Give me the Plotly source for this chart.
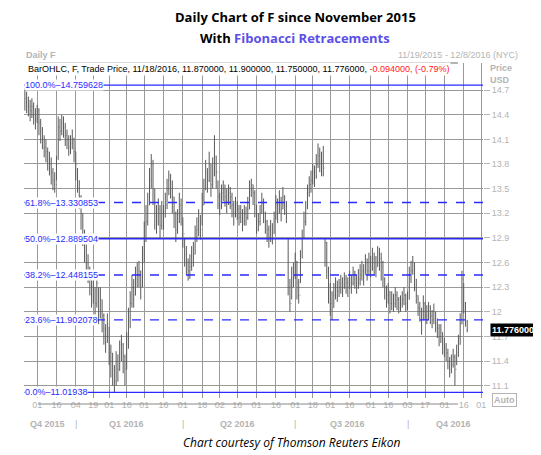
import pandas as pd
import plotly.graph_objects as go

# daily closes, highs, lows of F, 11/19/2015 - 11/18/2016
close = [
    14.6, 14.55, 14.5, 14.45, 14.5, 14.4, 14.35, 14.45, 14.3, 14.2,
    14.1, 14.0, 13.95, 13.85, 13.8, 13.7, 13.6, 13.55, 13.8, 14.25,
    14.2, 14.3, 14.25, 14.15, 14.1, 14.0, 14.05, 14.1, 13.95, 13.8,
    13.6, 13.4, 13.2, 12.95, 12.8, 12.6, 12.5, 12.4, 12.2, 12.3,
    12.1, 12.35, 12.0, 12.15, 11.95, 11.8, 11.7, 11.85, 11.5, 11.4,
    11.3, 11.15, 11.4, 11.3, 11.5, 11.6, 11.45, 11.3, 11.6, 11.9,
    12.1, 12.3, 12.2, 12.4, 12.45, 12.5, 12.3, 12.7, 12.9, 13.1,
    13.3, 13.6, 13.8, 13.5, 13.2, 13.1, 13.25, 13.05, 13.2, 13.15,
    13.3, 13.5, 13.6, 13.55, 13.4, 13.2, 13.0, 13.1, 13.3, 13.2,
    12.95, 12.7, 12.6, 12.5, 12.55, 12.65, 12.7, 12.9, 13.0, 13.1,
    13.0, 13.3, 13.5, 13.7, 13.6, 13.8, 13.55, 13.75, 13.9, 13.7,
    13.4, 13.3, 13.45, 13.5, 13.4, 13.35, 13.45, 13.4, 13.3, 13.2,
    13.3, 13.25, 13.15, 13.2, 13.1, 13.2, 13.15, 13.25, 13.5, 13.55,
    13.45, 13.3, 13.0, 13.1, 13.2, 13.35, 13.2, 13.1, 13.0, 12.9,
    13.0, 12.95, 13.1, 13.3, 13.2, 13.35, 13.25, 13.4, 13.3, 13.2,
    12.3, 12.1, 12.4, 12.45, 12.6, 12.35, 12.2, 12.6, 12.9, 13.1,
    13.2, 13.45, 13.55, 13.6, 13.7, 13.65, 13.8, 13.9, 13.85, 13.8,
    13.75, 12.85, 12.5, 12.3, 12.1, 12.05, 12.2, 12.3, 12.25, 12.3,
    12.35, 12.3, 12.4, 12.35, 12.3, 12.4, 12.35, 12.45, 12.4, 12.35,
    12.4, 12.45, 12.5, 12.45, 12.6, 12.5, 12.6, 12.55, 12.65, 12.6,
    12.55, 12.7, 12.65, 12.6, 12.4, 12.3, 12.2, 12.25, 12.1, 12.15,
    12.1, 12.2, 12.15, 12.05, 12.1, 12.15, 12.2, 12.1, 12.15, 12.4,
    12.5, 12.6, 12.4, 12.2, 12.05, 12.0, 11.9, 12.1, 12.0, 11.95,
    12.05, 11.95, 11.9, 12.0, 11.85, 11.8, 11.7, 11.75, 11.6, 11.55,
    11.5, 11.4, 11.3, 11.35, 11.45, 11.3, 11.5, 11.6, 11.85, 12.4,
    12.1, 11.9, 11.776,
]
high = [
    14.72, 14.68, 14.62, 14.58, 14.6, 14.55, 14.48, 14.52, 14.48, 14.35,
    14.25, 14.15, 14.1, 14.0, 13.95, 13.88, 13.75, 13.7, 13.9, 14.38,
    14.35, 14.4, 14.38, 14.3, 14.22, 14.15, 14.15, 14.22, 14.12, 13.95,
    13.75, 13.6, 13.42, 13.2, 13.0, 12.85, 12.7, 12.55, 12.45, 12.5,
    12.3, 12.48, 12.3, 12.3, 12.15, 11.98, 11.85, 11.98, 11.82, 11.6,
    11.5, 11.35, 11.52, 11.48, 11.65, 11.72, 11.62, 11.48, 11.75, 12.05,
    12.25, 12.45, 12.4, 12.55, 12.6, 12.62, 12.5, 12.8, 13.1, 13.3,
    13.45, 13.75, 13.92, 13.85, 13.5, 13.3, 13.38, 13.3, 13.35, 13.3,
    13.45, 13.62, 13.72, 13.68, 13.6, 13.4, 13.22, 13.25, 13.45, 13.38,
    13.15, 12.9, 12.8, 12.65, 12.7, 12.8, 12.85, 13.05, 13.15, 13.25,
    13.18, 13.45, 13.62, 13.85, 13.75, 13.95, 13.8, 13.88, 14.15, 13.9,
    13.6, 13.45, 13.55, 13.6, 13.55, 13.5, 13.55, 13.52, 13.45, 13.35,
    13.4, 13.35, 13.3, 13.3, 13.25, 13.3, 13.28, 13.4, 13.6, 13.62,
    13.55, 13.48, 13.3, 13.2, 13.3, 13.45, 13.38, 13.22, 13.12, 13.05,
    13.12, 13.08, 13.22, 13.42, 13.38, 13.48, 13.4, 13.52, 13.42, 13.35,
    12.9, 12.4, 12.55, 12.6, 12.72, 12.62, 12.4, 12.75, 13.0, 13.22,
    13.35, 13.55, 13.65, 13.72, 13.8, 13.78, 13.92, 14.05, 14.0, 13.95,
    14.02, 12.9, 12.85, 12.55, 12.35, 12.25, 12.35, 12.42, 12.38, 12.4,
    12.45, 12.42, 12.48, 12.45, 12.42, 12.5, 12.45, 12.55, 12.5, 12.45,
    12.52, 12.58, 12.62, 12.58, 12.7, 12.65, 12.72, 12.68, 12.78, 12.72,
    12.68, 12.8, 12.78, 12.72, 12.62, 12.42, 12.32, 12.35, 12.25, 12.25,
    12.22, 12.3, 12.25, 12.18, 12.2, 12.25, 12.3, 12.22, 12.25, 12.55,
    12.62, 12.68, 12.6, 12.4, 12.2, 12.12, 12.05, 12.2, 12.12, 12.08,
    12.12, 12.08, 12.02, 12.1, 12.0, 11.92, 11.85, 11.85, 11.75, 11.68,
    11.62, 11.55, 11.45, 11.48, 11.55, 11.48, 11.6, 11.72, 11.98, 12.5,
    12.35, 12.12, 11.9,
]
low = [
    14.45, 14.42, 14.38, 14.32, 14.36, 14.28, 14.22, 14.3, 14.15, 14.05,
    13.98, 13.88, 13.82, 13.72, 13.66, 13.55, 13.48, 13.45, 13.6, 13.85,
    14.08, 14.15, 14.12, 14.02, 13.98, 13.9, 13.92, 13.98, 13.82, 13.6,
    13.45, 13.25, 13.0, 12.8, 12.6, 12.45, 12.35, 12.2, 12.05, 12.1,
    11.95, 12.05, 11.85, 11.92, 11.75, 11.6, 11.5, 11.62, 11.35, 11.2,
    11.1, 11.02, 11.1, 11.15, 11.28, 11.4, 11.25, 11.1, 11.3, 11.55,
    11.8, 12.05, 12.05, 12.2, 12.3, 12.3, 12.15, 12.3, 12.6, 12.85,
    13.05, 13.3, 13.5, 13.3, 13.0, 12.95, 13.05, 12.9, 13.0, 13.0,
    13.15, 13.25, 13.42, 13.38, 13.2, 13.02, 12.85, 12.95, 13.08, 13.05,
    12.78, 12.55, 12.45, 12.38, 12.4, 12.5, 12.55, 12.7, 12.85, 12.92,
    12.88, 13.05, 13.3, 13.48, 13.45, 13.58, 13.4, 13.5, 13.65, 13.5,
    13.25, 13.18, 13.25, 13.35, 13.28, 13.2, 13.3, 13.25, 13.15, 13.05,
    13.15, 13.12, 13.05, 13.08, 12.98, 13.05, 13.05, 13.12, 13.25, 13.4,
    13.3, 13.15, 12.95, 12.98, 13.05, 13.2, 13.08, 12.95, 12.85, 12.78,
    12.85, 12.82, 12.95, 13.12, 13.08, 13.2, 13.1, 13.25, 13.18, 13.08,
    12.2, 12.0, 12.15, 12.3, 12.4, 12.15, 12.1, 12.35, 12.65, 12.9,
    13.05, 13.25, 13.4, 13.45, 13.55, 13.52, 13.62, 13.75, 13.7, 13.65,
    13.65, 12.55, 12.4, 12.1, 11.95, 11.9, 12.05, 12.15, 12.12, 12.18,
    12.22, 12.18, 12.28, 12.22, 12.18, 12.28, 12.22, 12.32, 12.28, 12.22,
    12.28, 12.32, 12.38, 12.32, 12.45, 12.38, 12.45, 12.42, 12.5, 12.45,
    12.42, 12.55, 12.5, 12.38, 12.3, 12.15, 12.05, 12.1, 11.98, 12.02,
    12.0, 12.05, 12.02, 11.98, 12.0, 12.05, 12.08, 12.0, 12.02, 12.15,
    12.35, 12.45, 12.25, 12.1, 11.95, 11.88, 11.72, 11.9, 11.9, 11.85,
    11.9, 11.85, 11.8, 11.85, 11.75, 11.68, 11.58, 11.62, 11.48, 11.45,
    11.4, 11.3, 11.2, 11.25, 11.32, 11.1, 11.35, 11.45, 11.6, 11.85,
    11.98, 11.82, 11.75,
]
first_open = 14.65

holidays = ["2015-11-26", "2015-12-25", "2016-01-01", "2016-01-18", "2016-02-15",
            "2016-03-25", "2016-05-30", "2016-07-04", "2016-09-05", "2016-11-24"]

fib_pct = ["100.0%", "61.8%", "50.0%", "38.2%", "23.6%", "0.0%"]
fib_txt = ["14.759628", "13.330853", "12.889504", "12.448155", "11.902078", "11.01938"]
fib_val = [14.759628, 13.330853, 12.889504, 12.448155, 11.902078, 11.01938]
fib_dash = ["solid", "dash", "solid", "dash", "dash", "solid"]

price_ticks = [11.1, 11.4, 11.7, 12.0, 12.3, 12.6, 12.9, 13.2, 13.5, 13.8, 14.1, 14.4, 14.7]
price_labels = ["11.1", "11.4", "11.7", "12", "12.3", "12.6", "12.9", "13.2", "13.5",
                "13.8", "14.1", "14.4", "14.7"]

tick_dates = ["2015-12-01", "2015-12-16", "2016-01-04", "2016-01-19", "2016-02-01",
              "2016-02-16", "2016-03-01", "2016-03-16", "2016-04-01", "2016-04-18",
              "2016-05-02", "2016-05-16", "2016-06-01", "2016-06-16", "2016-07-01",
              "2016-07-18", "2016-08-01", "2016-08-16", "2016-09-01", "2016-09-16",
              "2016-10-03", "2016-10-17", "2016-11-01", "2016-11-16", "2016-12-01"]
quarters = ["Q4 2015", "Q1 2016", "Q2 2016", "Q3 2016", "Q4 2016"]
quarter_mid = ["2015-12-09", "2016-02-16", "2016-05-16", "2016-08-15", "2016-11-08"]
quarter_sep = ["2016-01-04", "2016-04-01", "2016-07-01", "2016-10-03"]

dates = pd.bdate_range("2015-11-19", "2016-11-18")
dates = dates[~dates.isin(pd.to_datetime(holidays))]
assert len(dates) == len(close) == len(high) == len(low)
opens = [first_open] + close[:-1]

BLUE = "#2a2aff"
GRAY = "#b4b4b4"
FONT = "Liberation Sans"
PLOT_H = 335  # px, plot area height (455 - 55 - 65)


def py(ypx):
    # picture pixel row -> paper y
    return (397 - ypx) / PLOT_H


def px(xpx):
    return (xpx - 16) / 459


def note(text, x, y, xanchor="center", **kw):
    fig.add_annotation(xref="paper", yref="paper", x=px(x), y=py(y), xanchor=xanchor,
                       yanchor="middle", text=text, showarrow=False, **kw)


fig = go.Figure()
fig.add_trace(go.Ohlc(x=dates, open=opens, high=high, low=low, close=close,
                      increasing_line_color="#5a5a5a", decreasing_line_color="#5a5a5a",
                      line_width=1, tickwidth=0.2, hoverinfo="skip"))

# fibonacci levels
for pct, txt, val, dash in zip(fib_pct, fib_txt, fib_val, fib_dash):
    fig.add_shape(type="line", xref="paper", x0=0, x1=1, y0=val, y1=val,
                  line=dict(color=BLUE, width=1.3, dash=dash))
    fig.add_annotation(xref="paper", x=0, y=val, xanchor="left", yanchor="middle",
                       text=pct + "\u2013" + txt, showarrow=False,
                       font=dict(family=FONT, size=9, color=BLUE), bgcolor="white", borderpad=0)

# header
note("<b>Daily Chart of F since November 2015</b>", 287, 16,
     font=dict(family="Open Sans", size=13, color="black"))
note("<b>With <span style='color:#5b4fe8'>Fibonacci Retracements</span></b>", 287, 37,
     font=dict(family="Open Sans", size=13, color="black"))
note("<b>Daily F</b>", 16, 54, xanchor="left", font=dict(family=FONT, size=9, color=GRAY))
note("11/19/2015 - 12/8/2016 (NYC)", 512, 54, xanchor="right",
     font=dict(family=FONT, size=9, color=GRAY))
note("BarOHLC, F, Trade Price, 11/18/2016, 11.870000, 11.900000, 11.750000, 11.776000, "
     "<span style='color:#ff2020'>-0.094000, (-0.79%)</span>", 18, 68, xanchor="left",
     font=dict(family=FONT, size=9, color="black"), bgcolor="white")
note("<b>Price<br>USD</b>", 480, 73, xanchor="left", align="left",
     font=dict(family=FONT, size=9, color=GRAY))
fig.add_shape(type="line", xref="paper", yref="paper", x0=px(30), x1=px(450), y0=py(62), y1=py(62),
              line=dict(color=GRAY, width=2))
fig.add_shape(type="line", xref="paper", yref="paper", x0=px(30), x1=px(450), y0=py(403), y1=py(403),
              line=dict(color="#888", width=1))

# last price box
fig.add_annotation(xref="paper", x=px(482), y=close[-1], xanchor="left", yanchor="middle",
                   text="<b>11.776000</b>", showarrow=False, bgcolor="black", borderpad=1,
                   font=dict(family=FONT, size=9, color="white"))
note("<b>Auto</b>", 484, 399, xanchor="left", bordercolor=GRAY, borderwidth=1, borderpad=1,
     font=dict(family=FONT, size=9, color=GRAY))

# quarter labels
for q, m in zip(quarters, quarter_mid):
    fig.add_annotation(x=m, yref="paper", y=py(423), yanchor="middle", text="<b>" + q + "</b>",
                       showarrow=False, font=dict(family=FONT, size=9, color=GRAY))
for s in quarter_sep:
    fig.add_annotation(x=s, yref="paper", y=py(423), yanchor="middle", text="|", showarrow=False,
                       font=dict(family=FONT, size=9, color=GRAY))

note("<i>Chart courtesy of Thomson Reuters Eikon</i>", 283, 441,
     font=dict(family="Open Sans", size=12, color="black"))

fig.update_xaxes(type="date", range=["2015-11-18 12:00", "2016-12-02"],
                 rangebreaks=[dict(bounds=["sat", "mon"]), dict(values=holidays)],
                 tickvals=tick_dates, ticktext=[d[-2:] for d in tick_dates],
                 showgrid=True, gridcolor="#999999", gridwidth=1,
                 tickfont=dict(family=FONT, size=9, color=GRAY), ticks="",
                 rangeslider_visible=False, showline=False, zeroline=False)
fig.update_yaxes(range=[10.95, 15.03], side="right", tickvals=price_ticks, ticktext=price_labels,
                 showgrid=True, gridcolor="#999999", gridwidth=1,
                 ticks="outside", ticklen=6, tickcolor=GRAY,
                 tickfont=dict(family=FONT, size=9, color=GRAY), zeroline=False)
fig.update_layout(width=541, height=455, margin=dict(l=16, r=66, t=55, b=65),
                  plot_bgcolor="white", paper_bgcolor="white", showlegend=False)

fig.write_html("out.html")
